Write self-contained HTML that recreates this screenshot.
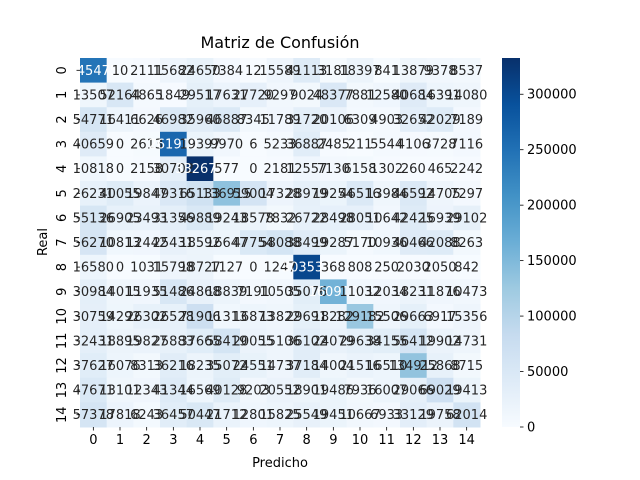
<!DOCTYPE html>
<html><head><meta charset="utf-8"><style>
body{margin:0;background:#fff;width:640px;height:480px;overflow:hidden}
svg{display:block;font-family:"DejaVu Sans","Liberation Sans",sans-serif}
</style></head><body>
<svg id="chart" width="640" height="480" viewBox="0 0 640 480">
<text x="280" y="48" text-anchor="middle" font-size="16">Matriz de Confusión</text>
<text x="280" y="467" text-anchor="middle" font-size="13">Predicho</text>
<text x="47" y="242" text-anchor="middle" font-size="13" transform="rotate(-90 47 242)">Real</text>
<g id="cells"></g><g id="ticks"></g><g id="cbar"></g>
</svg>
<script>
const classes=["0","1","2","3","4","5","6","7","8","9","10","11","12","13","14"];
const row0=[245475,10,2111,15682,24650,7384,12,15589,41113,3181,18397,841,13879,9378,8537];
const row1=[13507,52164,4865,1849,29517,17631,27720,9297,9024,48377,7881,12580,40684,16391,14080];
const row2=[54771,16411,6626,46982,35960,46887,8345,11789,31720,20106,6309,4903,32652,42029,7189];
const row3=[40659,0,2613,261910,19397,9970,6,5233,36887,2485,211,5544,4106,3728,7116];
const row4=[10818,0,2158,30702,332677,577,0,2181,12557,7130,6158,1302,260,465,2242];
const row5=[26231,40055,19847,49316,65133,136915,59004,17328,28979,19254,46516,13984,46592,14705,7297];
const row6=[55136,26905,23493,31356,49889,19243,18578,7832,26722,28498,28051,10642,42425,16939,29102];
const row7=[56270,10813,12442,25431,18592,16647,47754,58088,38499,19287,5170,10936,40466,42088,8263];
const row8=[16580,0,1031,15798,18727,1127,0,1247,303536,368,808,250,2030,2050,842];
const row9=[30984,14015,11935,51486,24868,18839,7191,10505,35076,160910,11032,12034,18231,11876,10473];
const row10=[30759,14292,26302,26528,71906,11313,16873,13822,29691,18282,129182,15506,29663,6917,15356];
const row11=[32431,18895,19827,25883,37665,58419,20055,15106,36102,24079,29638,34155,56412,19902,14731];
const row12=[37627,16076,8313,36216,18235,35072,24551,14737,37184,14004,21516,16510,134912,25868,8715];
const row13=[47671,13101,12343,41344,16569,40128,9203,20552,18901,19486,7936,16007,29066,69029,19413];
const row14=[57378,17818,6243,36457,50447,21712,12801,15825,25549,19451,10667,6933,33129,19758,62014];
const matrix=[row0,row1,row2,row3,row4,row5,row6,row7,row8,row9,row10,row11,row12,row13,row14];
const cbarTicks=[0,50000,100000,150000,200000,250000,300000];

const NS="http://www.w3.org/2000/svg";
const X0=80,X1=480,Y0=58,Y1=427;
const vmax=Math.max(...matrix.flat());
const cw=(X1-X0)/classes.length, ch=(Y1-Y0)/classes.length;
const stops=["#f7fbff","#deebf7","#c6dbef","#9ecae1","#6baed6","#4292c6","#2171b5","#08519c","#08306b"].map(h=>[1,3,5].map(i=>parseInt(h.substr(i,2),16)));
function cmap(t){t=Math.max(0,Math.min(1,t));const p=t*8,i=Math.min(7,Math.floor(p)),f=p-i;const c=stops[i].map((v,k)=>v+(stops[i+1][k]-v)*f);return c;}
function rgb(c){return "rgb("+c.map(Math.round).join(",")+")";}
function lum(c){const l=c.map(v=>{v/=255;return v<=0.03928?v/12.92:Math.pow((v+0.055)/1.055,2.4)});return 0.2126*l[0]+0.7152*l[1]+0.0722*l[2];}
function xs(j){return X0+j*cw;} function ys(i){return Y0+i*ch;}
function mk(tag,attrs,parent){const e=document.createElementNS(NS,tag);for(const k in attrs)e.setAttribute(k,attrs[k]);parent.appendChild(e);return e;}
const cells=document.getElementById("cells"),ticks=document.getElementById("ticks"),cb=document.getElementById("cbar");
matrix.forEach((row,i)=>row.forEach((v,j)=>{
  const c=cmap(v/vmax);
  const r=mk("rect",{x:xs(j),y:ys(i),width:cw+0.5,height:ch+0.5,fill:rgb(c)},cells);
  
  
}));
matrix.forEach((row,i)=>row.forEach((v,j)=>{
  const c=cmap(v/vmax);
  const t=mk("text",{x:xs(j)+cw/2,y:ys(i)+ch/2+4.5,"text-anchor":"middle","font-size":"13",fill:lum(c)<0.408?"#fff":"#262626"},cells);
  t.textContent=v;
  
  
}));
classes.forEach((c,j)=>{
  const x=xs(j)+cw/2;
  mk("line",{x1:x,x2:x,y1:Y1,y2:Y1+3.5,stroke:"#000","stroke-width":0.8},ticks);
  const t=mk("text",{x:x,y:Y1+17,"text-anchor":"middle","font-size":"13"},ticks);
  t.textContent=c;
  
  
  const y=ys(j)+ch/2;
  const lx=X0-14;
  mk("line",{x1:X0-3.5,x2:X0,y1:y,y2:y,stroke:"#000","stroke-width":0.8},ticks);
  const t2=mk("text",{x:lx,y:y,"text-anchor":"middle","font-size":"13",transform:"rotate(-90 "+lx+" "+y+")"},ticks);
  t2.textContent=c;
  
  
});
const CX0=502,CX1=520;
const defs=mk("defs",{},cb);
const g=mk("linearGradient",{id:"gr",x1:0,y1:1,x2:0,y2:0},defs);
for(let k=0;k<=8;k++){mk("stop",{offset:k/8,"stop-color":rgb(stops[k])},g);}
const bar=mk("rect",{x:CX0,y:Y0,width:CX1-CX0,height:Y1-Y0,fill:"url(#gr)"},cb);


cbarTicks.forEach(v=>{
  const y=Y1-(v/vmax)*(Y1-Y0);
  mk("line",{x1:CX1,x2:CX1+3.5,y1:y,y2:y,stroke:"#000","stroke-width":0.8},cb);
  const t=mk("text",{x:CX1+7,y:y+4.5,"font-size":"13"},cb);
  t.textContent=v;
  
  
});
</script>
</body></html>
